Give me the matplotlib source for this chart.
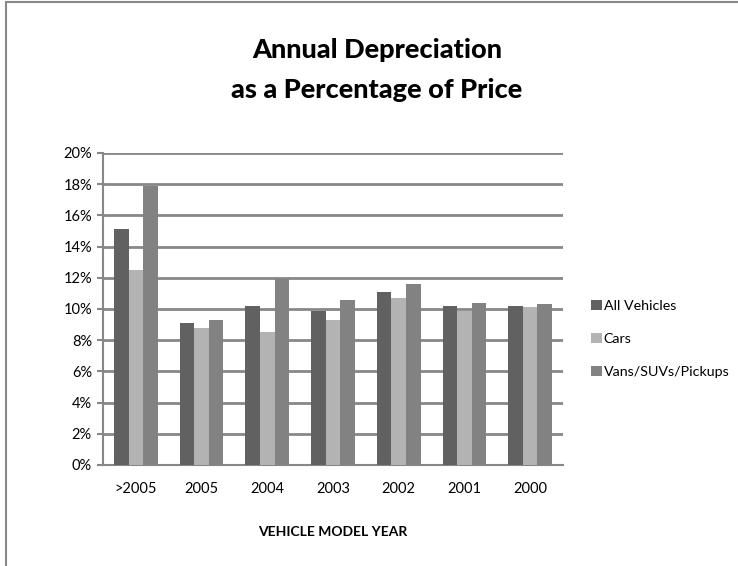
import matplotlib
matplotlib.use("Agg")
import matplotlib.pyplot as plt
from matplotlib.patches import Rectangle
import numpy as np

categories = [">2005", "2005", "2004", "2003", "2002", "2001", "2000"]
all_vehicles = [15.1, 9.1, 10.2, 9.9, 11.1, 10.2, 10.2]
cars = [12.5, 8.8, 8.5, 9.3, 10.7, 9.9, 10.1]
vans = [17.9, 9.3, 11.9, 10.6, 11.6, 10.4, 10.3]
series_names = ["All Vehicles", "Cars", "Vans/SUVs/Pickups"]
series_colors = ["#616161", "#b3b3b3", "#828282"]
y_ticks = [0, 2, 4, 6, 8, 10, 12, 14, 16, 18, 20]

plt.rcParams['font.family'] = ['Lato', 'DejaVu Sans']

W, H = 738, 566
fig = plt.figure(figsize=(W / 100, H / 100), dpi=100)
ax = fig.add_axes([103 / W, 1 - 465 / H, (563 - 103) / W, (465 - 153) / H])

x = np.arange(len(categories))
bw = 1 / 4.5
for i, (vals, name, col) in enumerate(zip([all_vehicles, cars, vans], series_names, series_colors)):
    ax.bar(x + (i - 1) * bw, vals, width=bw, color=col, label=name, zorder=3)

ax.set_xlim(-0.5, len(categories) - 0.5)
ax.set_ylim(0, 20)
ax.set_yticks(y_ticks)
ax.set_yticklabels([f"{t}%" for t in y_ticks], fontsize=10.5)
ax.set_xticks(x)
ax.set_xticklabels(categories, fontsize=10.5)
ax.tick_params(axis='x', length=0, pad=12)
ax.tick_params(axis='y', length=4, width=1.5, color="#878787", pad=4)
ax.yaxis.grid(True, color="#878787", linewidth=2, zorder=0)
ax.set_axisbelow(True)
for s in ["top", "right"]:
    ax.spines[s].set_visible(False)
for s in ["left", "bottom"]:
    ax.spines[s].set_color("#878787")
    ax.spines[s].set_linewidth(1.5)

ax.set_xlabel("VEHICLE MODEL YEAR", fontsize=10, fontweight="bold", labelpad=22)

fig.text(377 / W, 1 - 50 / H, "Annual Depreciation", ha="center", va="center",
         fontsize=19.5, fontweight="black")
fig.text(377 / W, 1 - 90 / H, "as a Percentage of Price", ha="center", va="center",
         fontsize=19.5, fontweight="black")

leg = fig.legend(loc="upper left", bbox_to_anchor=(578 / W, 1 - 287 / H), frameon=False,
                 fontsize=10.3, handlelength=0.75, handleheight=0.75, handletextpad=0.15,
                 labelspacing=1.45)

fig.add_artist(Rectangle((6 / W, -0.1), 1.2, 1.1 - 2 / H + 0.0, transform=fig.transFigure,
                         fill=False, edgecolor="#888888", linewidth=1.5))

fig.savefig("out.png", dpi=100)
